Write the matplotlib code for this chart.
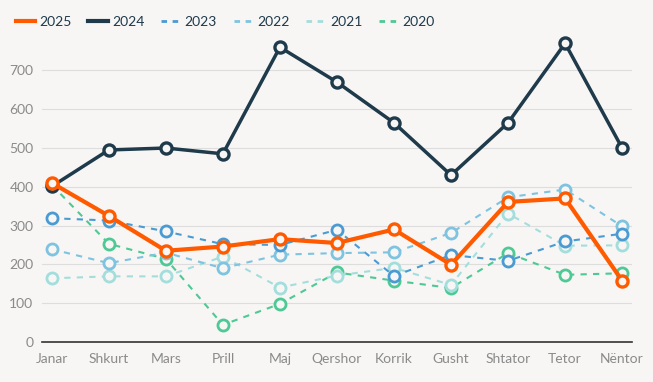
import matplotlib

matplotlib.use("Agg")
import matplotlib.pyplot as plt
from matplotlib.lines import Line2D
import numpy as np

months = ["Janar", "Shkurt", "Mars", "Prill", "Maj", "Qershor",
          "Korrik", "Gusht", "Shtator", "Tetor", "Nëntor"]

v2025 = [410, 325, 235, 246, 265, 255, 290, 199, 361, 370, 158]
v2024 = [401, 495, 500, 485, 760, 670, 565, 430, 565, 770, 500]
v2023 = [319, 313, 285, 252, 250, 289, 170, 224, 209, 259, 279]
v2022 = [239, 203, 230, 190, 225, 229, 231, 281, 373, 393, 298]
v2021 = [164, 169, 169, 220, 140, 171, 191, 147, 331, 248, 249]
v2020 = [405, 253, 214, 44, 98, 179, 158, 139, 229, 173, 177]

bg = "#f7f6f4"
plt.rcParams["font.family"] = ["Lato", "DejaVu Sans"]

fig = plt.figure(figsize=(6.53, 3.82), dpi=100, facecolor=bg)
ax = fig.add_axes([0.064, 0.105, 0.904, 0.812], facecolor=bg)

x = np.arange(len(months))

# older years first so the recent ones sit on top
series = [
    ("2020", v2020, "#4ec995", "--", 1.5),
    ("2021", v2021, "#a3dedd", "--", 1.5),
    ("2022", v2022, "#7ec3e0", "--", 1.5),
    ("2023", v2023, "#4b9bd3", "--", 1.5),
    ("2024", v2024, "#1e3a4b", "-", 2.5),
    ("2025", v2025, "#ff5a00", "-", 3.0),
]
handles = {}
for name, vals, col, ls, lw in series:
    h, = ax.plot(x, vals, color=col, linestyle=ls, linewidth=lw,
                 dashes=(3, 3) if ls == "--" else (None, None),
                 marker="o", markersize=8, markerfacecolor=bg,
                 markeredgecolor=col, markeredgewidth=2 if ls == "--" else 2.4,
                 label=name, zorder=3)
    handles[name] = h

ax.set_xlim(-0.175, 10.175)
ax.set_ylim(0, 800)
ax.set_yticks(range(0, 800, 100))
ax.set_xticks(x)
ax.set_xticklabels(months)
ax.tick_params(length=0, colors="#8a8a8a", labelsize=10)
ax.tick_params(axis="x", pad=8)
ax.tick_params(axis="y", pad=6)
ax.grid(axis="y", color="#dddddd", linewidth=0.8)
ax.set_axisbelow(True)
for s in ["top", "right", "left"]:
    ax.spines[s].set_visible(False)
ax.spines["bottom"].set_color("#333333")
ax.spines["bottom"].set_linewidth(1.2)

order = ["2025", "2024", "2023", "2022", "2021", "2020"]
leg_handles = []
for name in order:
    h = handles[name]
    leg_handles.append(Line2D([0], [0], color=h.get_color(),
                              linestyle=h.get_linestyle(),
                              linewidth=3 if name in ("2025", "2024") else 2,
                              dashes=(2, 2) if h.get_linestyle() == "--" else (None, None)))
fig.legend(leg_handles, order, loc="upper left", bbox_to_anchor=(0.005, 0.99),
           ncol=6, frameon=False, handlelength=1.4, handletextpad=0.3,
           columnspacing=1.2, fontsize=10, labelcolor="#1e3a4b")

fig.savefig("out.png", dpi=100, facecolor=bg)
